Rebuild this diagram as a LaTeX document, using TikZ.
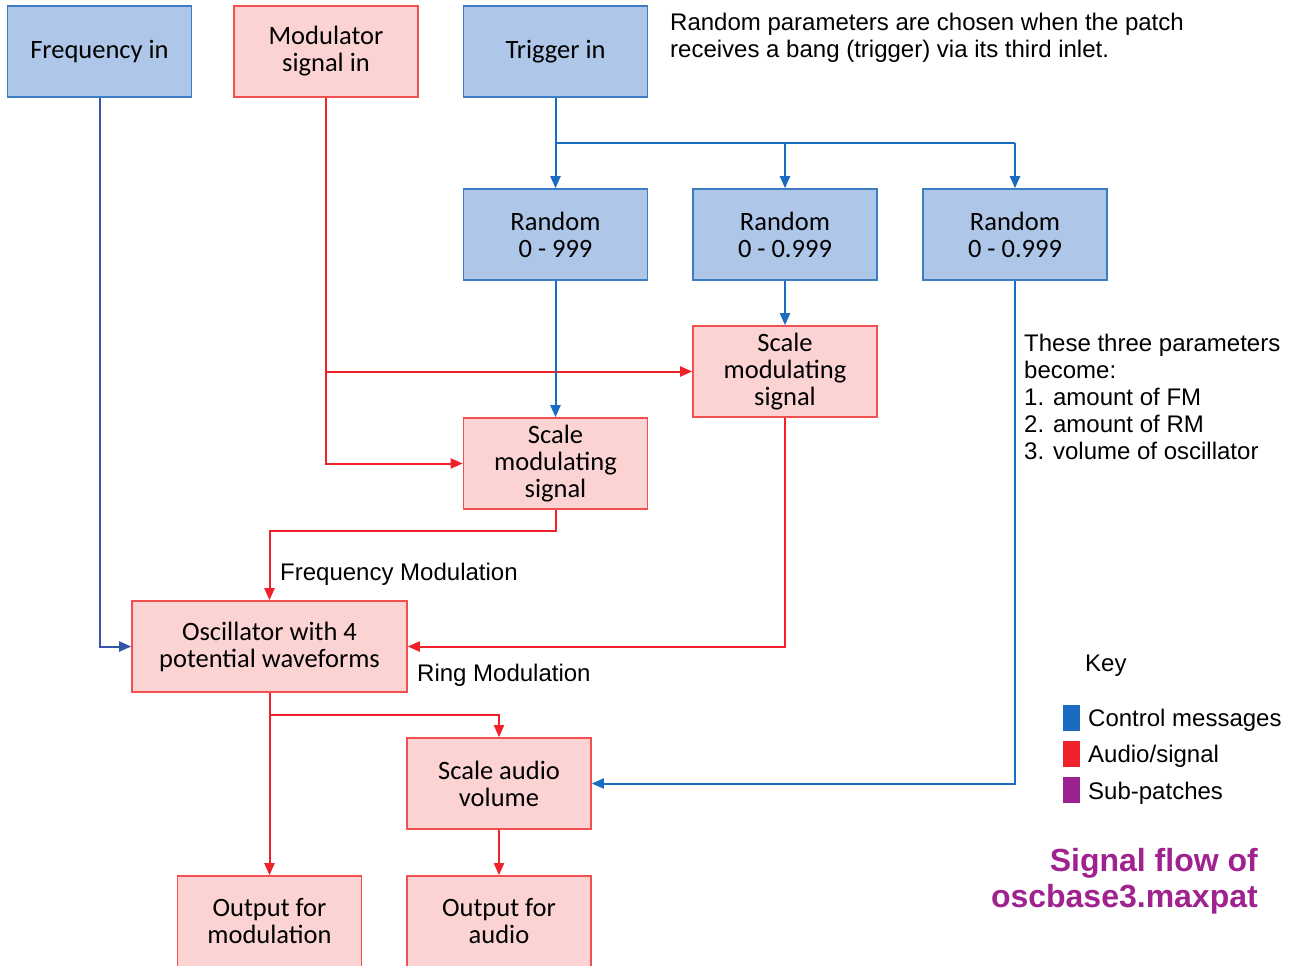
\documentclass[tikz,border=0pt]{standalone}
\usepackage{fontspec}
\setmainfont{Liberation Sans}
\newfontfamily\boxfont{Carlito}
\usetikzlibrary{arrows.meta}
\definecolor{bfill}{HTML}{AEC6E8}
\definecolor{bdraw}{HTML}{3C7DC4}
\definecolor{rfill}{HTML}{FBD3D3}
\definecolor{rdraw}{HTML}{F05050}
\definecolor{ctlc}{HTML}{1A6CC0}
\definecolor{sigc}{HTML}{EE2228}
\definecolor{frqc}{HTML}{3355AA}
\definecolor{subc}{HTML}{9B2391}
\definecolor{titc}{HTML}{A0228F}
\tikzset{
  boxbase/.style={draw, line width=1.6pt, minimum width=184pt, minimum height=91pt, inner sep=0pt, align=center, font=\boxfont\fontsize{26.5}{27}\selectfont},
  bluebox/.style={boxbase, fill=bfill, draw=bdraw},
  redbox/.style={boxbase, fill=rfill, draw=rdraw},
  conn/.style={line width=2pt, -{Triangle[length=12pt,width=10pt]}},
  ctl/.style={conn, draw=ctlc},
  frq/.style={conn, draw=frqc},
  sig/.style={conn, draw=sigc},
  lbl/.style={inner sep=0pt, font=\fontsize{24}{27}\selectfont, align=left},
  legsq/.style={minimum width=17pt, minimum height=26pt, inner sep=0pt},
}
\begin{document}
\begin{tikzpicture}[x=1pt,y=-1pt]
\useasboundingbox (0,0) rectangle (1298,966);
% top row
\node[bluebox] (freq) at (99.5,51.5) {Frequency in};
\node[redbox] (mod) at (326,51.5) {Modulator\\signal in};
\node[bluebox] (trig) at (555.5,51.5) {Trigger in};
% random
\node[bluebox] (r1) at (555.5,234.5) {Random\\0 - 999};
\node[bluebox] (r2) at (785,234.5) {Random\\0 - 0.999};
\node[bluebox] (r3) at (1015,234.5) {Random\\0 - 0.999};
% scale
\node[redbox] (scR) at (785,371.5) {Scale\\modulating\\signal};
\node[redbox] (scL) at (555.5,463.5) {Scale\\modulating\\signal};
% oscillator
\node[redbox, minimum width=275pt] (osc) at (269.5,646.5) {Oscillator with 4\\potential waveforms};
\node[redbox] (vol) at (499,783.5) {Scale audio\\volume};
\node[redbox] (outM) at (269.5,921.5) {Output for\\modulation};
\node[redbox] (outA) at (499,921.5) {Output for\\audio};
% junction coordinates
\coordinate (tj) at (0,143);
\coordinate (fmj) at (0,531);
\coordinate (aj) at (0,715);
% connectors
\draw[frq] (freq.south) |- (osc.west);
\draw[sig] (mod.south) |- (scL.west);
\draw[sig] (mod.south |- scR.west) -- (scR.west);
\draw[ctl] (trig.south) -- (r1.north);
\draw[ctl, -] (trig.south |- tj) -- (r3.north |- tj);
\draw[ctl] (r3.north |- tj) -- (r3.north);
\draw[ctl] (r2.north |- tj) -- (r2.north);
\draw[ctl] (r1.south) -- (scL.north);
\draw[ctl] (r2.south) -- (scR.north);
\draw[ctl] (r3.south) |- (vol.east);
\draw[sig] (scL.south) -- (scL.south |- fmj) -| (osc.north);
\draw[sig] (scR.south) |- (osc.east);
\draw[sig] (osc.south) -- (outM.north);
\draw[sig] (osc.south |- aj) -| (vol.north);
\draw[sig] (vol.south) -- (outA.north);
% labels
\node[lbl, anchor=west] (fmlab) at (280,574) {Frequency Modulation};
\node[lbl, anchor=west] (rmlab) at (417,675) {Ring Modulation};
\node[lbl, anchor=west] (toptxt) at (670,38) {Random parameters are chosen when the patch\\receives a bang (trigger) via its third inlet.};
\node[lbl, anchor=west] (partxt) at (1024,397) {These three parameters\\become:\\1. amount of FM\\2. amount of RM\\3. volume of oscillator};
% key
\node[lbl, anchor=west] (key) at (1085,666) {Key};
\node[legsq, fill=ctlc] (k1) at (1071.5,718) {};
\node[legsq, fill=sigc] (k2) at (1071.5,754) {};
\node[legsq, fill=subc] (k3) at (1071.5,790) {};
\node[lbl, anchor=west] (k1t) at (1088,720) {Control messages};
\node[lbl, anchor=west] (k2t) at (1088,756) {Audio/signal};
\node[lbl, anchor=west] (k3t) at (1088,793) {Sub-patches};
% title
\node[inner sep=0pt, anchor=east, align=right, text=titc, font=\bfseries\fontsize{32}{36}\selectfont] (title) at (1258,881) {Signal flow of\\oscbase3.maxpat};
\end{tikzpicture}
\end{document}
